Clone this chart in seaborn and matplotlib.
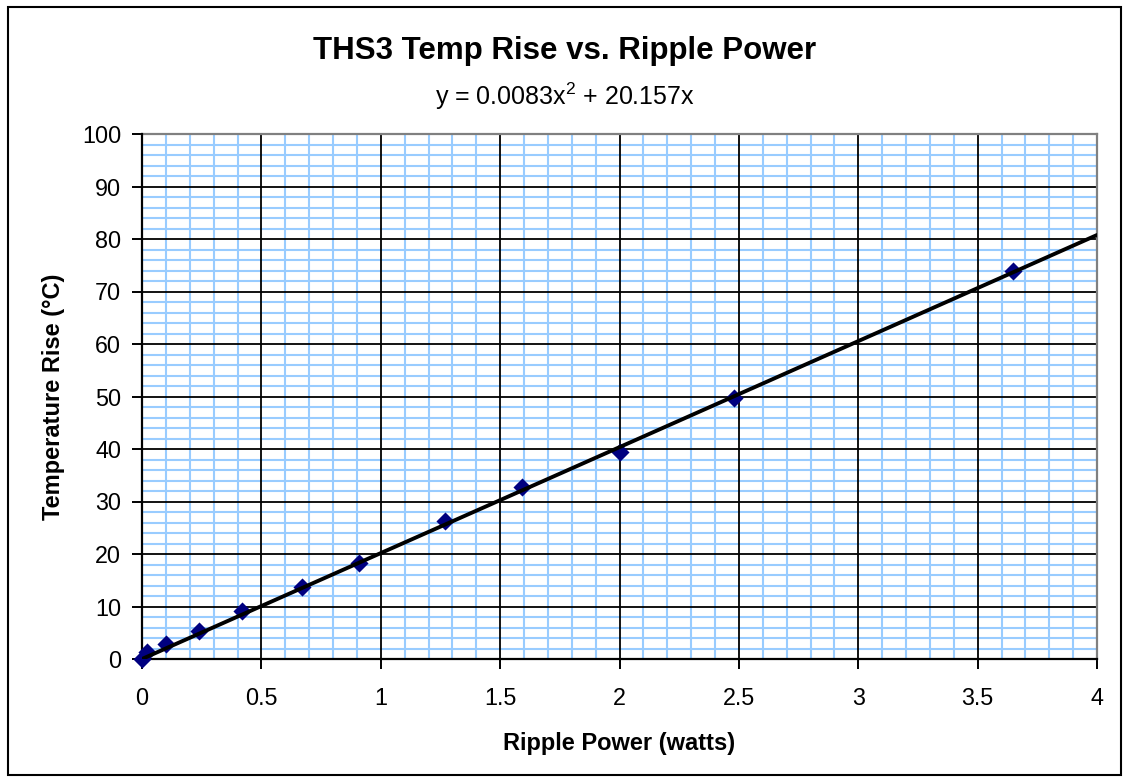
import numpy as np
import pandas as pd
import matplotlib
matplotlib.use("Agg")
import matplotlib.pyplot as plt
from matplotlib.ticker import MultipleLocator
from matplotlib.patches import Rectangle
import seaborn as sns

# ---- data ----
ripple_power = [0.00, 0.02, 0.10, 0.24, 0.42, 0.67, 0.91, 1.27, 1.59, 2.00, 2.48, 3.65]
temp_rise = [0.0, 1.3, 2.9, 5.3, 9.1, 13.7, 18.2, 26.3, 32.8, 39.5, 49.8, 73.9]
trend_coeffs = [0.0083, 20.157, 0.0]   # y = 0.0083x^2 + 20.157x
trend_range = [0.0, 4.0]
xtick_labels = ["0", "0.5", "1", "1.5", "2", "2.5", "3", "3.5", "4"]

title = "THS3 Temp Rise vs. Ripple Power"
subtitle = "y = 0.0083x$^\\mathregular{2}$ + 20.157x"
xlabel = "Ripple Power (watts)"
ylabel = "Temperature Rise (\u00b0C)"

sns.set_style("white")
plt.rcParams["font.family"] = ["Liberation Sans", "DejaVu Sans"]
plt.rcParams["mathtext.fontset"] = "custom"
plt.rcParams["mathtext.rm"] = "Liberation Sans"
plt.rcParams["text.color"] = "black"
plt.rcParams["axes.labelcolor"] = "black"
plt.rcParams["xtick.color"] = "black"
plt.rcParams["ytick.color"] = "black"

fig = plt.figure(figsize=(11.29, 7.78), dpi=100)
ax = fig.add_axes([142/1129, 1-659/778, (1097-142)/1129, (659-134)/778])

pts = pd.DataFrame({"x": ripple_power, "y": temp_rise})
tx = np.linspace(trend_range[0], trend_range[1], 200)
trend = pd.DataFrame({"x": tx, "y": np.polyval(trend_coeffs, tx)})

sns.scatterplot(data=pts, x="x", y="y", ax=ax, marker="D", s=85,
                color="#000080", edgecolor="#000080", linewidth=0, zorder=6,
                clip_on=False)
sns.lineplot(data=trend, x="x", y="y", ax=ax, color="black", linewidth=2.8, zorder=7)

ax.set_xlim(0, 4)
ax.set_ylim(0, 100)
ax.set_xticks(np.arange(0, 4.01, 0.5))
ax.set_xticklabels(xtick_labels)
ax.yaxis.set_major_locator(MultipleLocator(10))
ax.xaxis.set_minor_locator(MultipleLocator(0.1))
ax.yaxis.set_minor_locator(MultipleLocator(2))

# light-blue minor grid beneath, black major grid above it
ax.set_axisbelow(True)
ax.grid(which="minor", color="#99CCFF", linewidth=1.5)
ax.grid(which="major", visible=False)
for t in ax.get_xticks():
    ax.axvline(t, color="black", linewidth=1.3, zorder=1)
for t in ax.get_yticks():
    ax.axhline(t, color="black", linewidth=1.3, zorder=1)

ax.tick_params(axis="both", which="major", direction="out", length=7, width=1.4,
               color="black", labelsize=16.8, bottom=True, left=True)
ax.tick_params(axis="x", which="major", pad=13)
ax.tick_params(axis="y", which="major", pad=8)
ax.tick_params(which="minor", length=0)

for s in ["left", "bottom"]:
    ax.spines[s].set_color("black")
    ax.spines[s].set_linewidth(1.6)
    ax.spines[s].set_zorder(5)
for s in ["top", "right"]:
    ax.spines[s].set_color("#808080")
    ax.spines[s].set_linewidth(1.6)

ax.set_xlabel(xlabel, fontsize=17, fontweight="bold", labelpad=16)
ax.set_ylabel(ylabel, fontsize=17, fontweight="bold", labelpad=12)

fig.text(0.5, 1-51/778, title, ha="center", va="center", fontsize=22.5, fontweight="bold")
fig.text(0.5, 1-96/778, subtitle, ha="center", va="center", fontsize=18)

fig.patches.append(Rectangle((8/1129, 1-775/778), (1121-8)/1129, (775-7)/778,
                             transform=fig.transFigure, fill=False,
                             edgecolor="black", linewidth=1.5))

fig.savefig("out.png", dpi=100)
